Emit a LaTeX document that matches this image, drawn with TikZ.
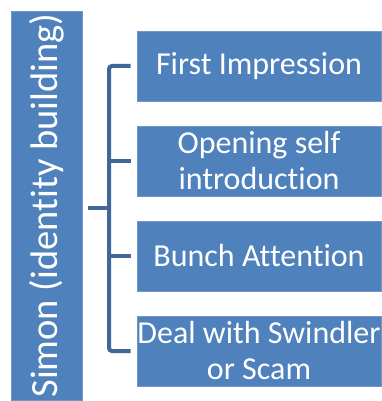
\documentclass[tikz,border=0pt]{standalone}
\usepackage{fontspec}
\setmainfont[Ligatures=NoCommon]{Carlito}
\usepackage{xcolor}
\definecolor{boxblue}{HTML}{4F81BD}
\definecolor{boxedge}{HTML}{7396C6}
\definecolor{linkblue}{HTML}{3F6899}

\begin{document}
\begin{tikzpicture}[x=1pt, y=-1pt,
  topic/.style={draw=boxedge, line width=0.8pt, fill=boxblue, text=white, align=center,
    minimum width=244pt, minimum height=70pt, inner sep=0pt,
    font=\fontsize{32}{36}\selectfont},
  link/.style={draw=linkblue, line width=4pt, rounded corners=3pt}]
  \useasboundingbox (0,0) rectangle (381,401);
  \node[topic, rotate=90, minimum width=389pt, minimum height=71pt,
    font=\fontsize{38.5}{42}\selectfont] (simon) at (46.5,205.5) {Simon (identity building)};
  \node[topic] (first) at (259,66) {First Impression};
  \node[topic] (opening) at (259,161) {Opening self\\introduction};
  \node[topic] (bunch) at (259,256) {Bunch Attention};
  \node[topic] (deal) at (259,351) {Deal with Swindler\\or Scam};
  \coordinate (spine) at (109,0);
  \coordinate (hub) at ([yshift=-2.5pt]simon.south);
  \draw[link] ([xshift=-6pt]first.west) -| (spine |- deal.west) -- ([xshift=-6pt]deal.west);
  \draw[link, shorten >=6pt] (spine |- opening.west) -- (opening.west);
  \draw[link, shorten >=6pt] (spine |- bunch.west) -- (bunch.west);
  \draw[link, shorten <=6pt] (hub) -- (spine |- hub);
\end{tikzpicture}
\end{document}
